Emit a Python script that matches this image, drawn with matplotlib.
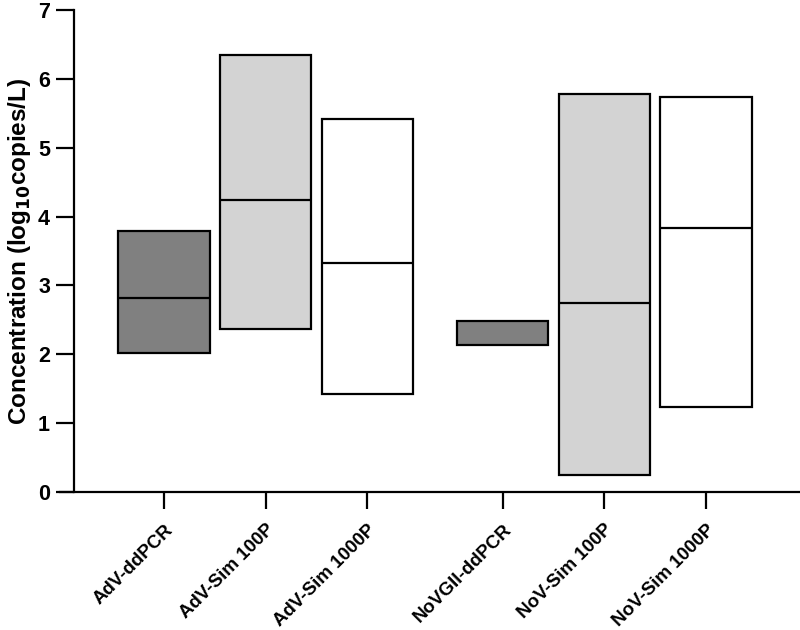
import numpy as np
import matplotlib
matplotlib.use("Agg")
import matplotlib.pyplot as plt

plt.rcParams['font.family'] = ['Liberation Sans', 'DejaVu Sans']
plt.rcParams['font.weight'] = 'bold'
plt.rcParams['mathtext.default'] = 'bf'

categories = ["AdV-ddPCR", "AdV-Sim 100P", "AdV-Sim 1000P",
              "NoVGII-ddPCR", "NoV-Sim 100P", "NoV-Sim 1000P"]
positions = [0, 1, 2, 3.333, 4.333, 5.333]
mins = [2.02, 2.36, 1.43, 2.14, 0.25, 1.23]
maxs = [3.79, 6.34, 5.41, 2.49, 5.78, 5.73]
medians = [2.82, 4.24, 3.33, np.nan, 2.75, 3.84]
colors = ["#808080", "#d3d3d3", "#ffffff", "#808080", "#d3d3d3", "#ffffff"]

fig = plt.figure(figsize=(8, 6.3), dpi=100)
ax = fig.add_axes([74/800, 138/630, 1 - 74/800, 482/630])

width = 0.9
heights = [hi - lo for lo, hi in zip(mins, maxs)]
ax.bar(positions, heights, bottom=mins, width=width, color=colors,
       edgecolor='black', linewidth=1.6, zorder=2)
for x, m in zip(positions, medians):
    if not np.isnan(m):
        ax.hlines(m, x - width/2, x + width/2, color='black', linewidth=1.6, zorder=3)

ax.set_xlim(-0.886, 6.258)
ax.set_ylim(0, 7)
ax.set_yticks(range(0, 8))
ax.set_xticks(positions)
ax.set_xticklabels(categories, rotation=45, ha='right', rotation_mode='anchor',
                   fontsize=13.5, fontweight='bold')
ax.tick_params(axis='x', length=12, width=1.6, pad=9)
ax.tick_params(axis='y', length=13, width=1.6, labelsize=15.5, pad=4.3)
for lbl in ax.get_yticklabels():
    lbl.set_fontweight('bold')
ax.spines['top'].set_visible(False)
ax.spines['right'].set_visible(False)
ax.spines['left'].set_linewidth(1.6)
ax.spines['bottom'].set_linewidth(1.6)
ax.spines['bottom'].set_bounds(-1.02, 6.258)
ax.set_ylabel(r"Concentration (log$_{\mathbf{10}}$copies/L)", fontsize=17.5,
              fontweight='bold')
ax.yaxis.set_label_coords(-0.057, 0.5)

fig.savefig("out.png", dpi=100)
